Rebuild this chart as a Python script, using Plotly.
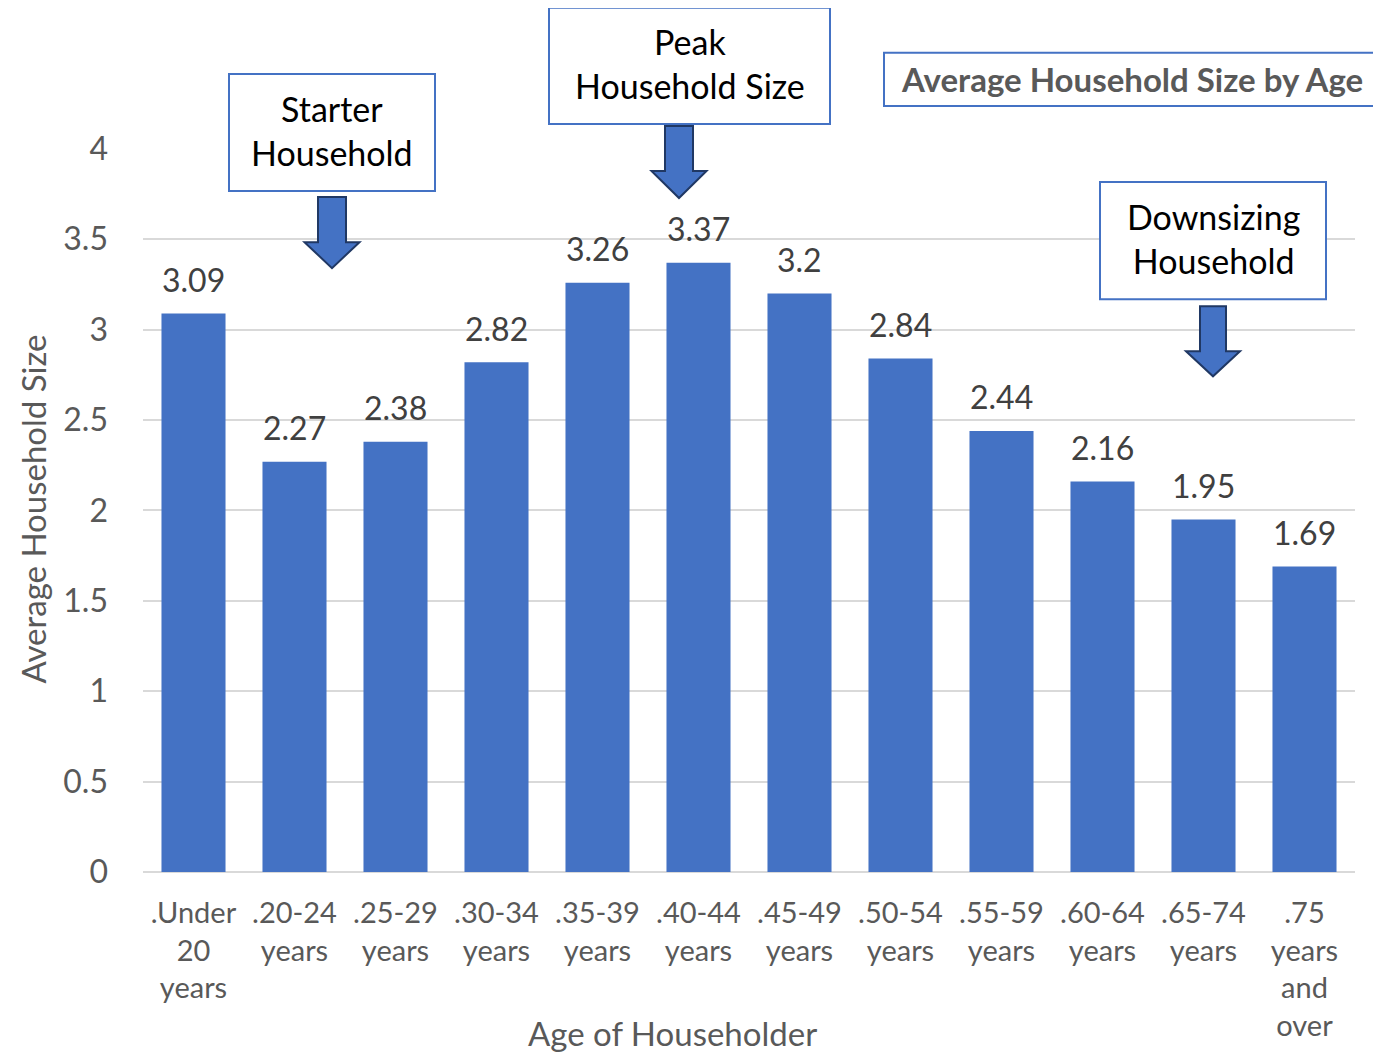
import plotly.graph_objects as go

categories = [".Under<br>20<br>years", ".20-24<br>years", ".25-29<br>years", ".30-34<br>years",
              ".35-39<br>years", ".40-44<br>years", ".45-49<br>years", ".50-54<br>years",
              ".55-59<br>years", ".60-64<br>years", ".65-74<br>years", ".75<br>years<br>and<br>over"]
values = [3.09, 2.27, 2.38, 2.82, 3.26, 3.37, 3.2, 2.84, 2.44, 2.16, 1.95, 1.69]
value_labels = ["3.09", "2.27", "2.38", "2.82", "3.26", "3.37", "3.2", "2.84", "2.44", "2.16", "1.95", "1.69"]

FONT = "Lato"
BLUE = "#4472C4"
GREY = "#595959"

W, H = 1381, 1059
OFF = 8  # default page body margin
L, R, T, B = 143, 1355, 149, 872  # target plot area in window pixels


def fx(x):
    return (x - L) / (R - L)


def fy(y):
    return (B - y) / (B - T)


fig = go.Figure()
fig.add_trace(go.Bar(x=categories, y=values, marker_color=BLUE, marker_line_width=0,
                     hoverinfo="skip"))

annotations = []
for c, v, t in zip(categories, values, value_labels):
    annotations.append(dict(x=c, y=v, xref="x", yref="y", text=t, showarrow=False,
                            xanchor="center", yanchor="middle", yshift=34,
                            font=dict(family=FONT, size=32, color="#404040")))

# Axis titles
annotations.append(dict(x=fx(672), y=fy(1033), xref="paper", yref="paper",
                        text="Age of Householder", showarrow=False,
                        xanchor="center", yanchor="middle",
                        font=dict(family=FONT, size=33, color=GREY)))
annotations.append(dict(x=fx(33), y=fy(510), xref="paper", yref="paper",
                        text="Average Household Size", showarrow=False, textangle=-90,
                        xanchor="center", yanchor="middle",
                        font=dict(family=FONT, size=33, color=GREY)))

shapes = []
# Callout boxes: (x0, y0, x1, y1, text, bold)
boxes = [
    (229, 75, 435, 192, "Starter<br>Household", False),
    (549, 9, 830, 125, "Peak<br>Household Size", False),
    (884, 54, 1380, 107, "Average Household Size by Age", True),
    (1100, 183, 1326, 300, "Downsizing<br>Household", False),
]
for x0, y0, x1, y1, txt, bold in boxes:
    shapes.append(dict(type="rect", xref="paper", yref="paper",
                       x0=fx(x0), x1=fx(x1), y0=fy(y1), y1=fy(y0),
                       line=dict(color=BLUE, width=2), fillcolor="white", layer="above"))
    if bold:
        annotations.append(dict(x=fx((x0 + x1) / 2), y=fy((y0 + y1) / 2), xref="paper", yref="paper",
                                text="<b>" + txt + "</b>", showarrow=False,
                                xanchor="center", yanchor="middle",
                                font=dict(family=FONT, size=33, color=GREY)))
    else:
        annotations.append(dict(x=fx((x0 + x1) / 2), y=fy((y0 + y1) / 2 - 2), xref="paper", yref="paper",
                                text=txt, showarrow=False,
                                xanchor="center", yanchor="middle",
                                font=dict(family=FONT, size=34, color="black")))

# Block arrows: (tip x, tip y, shaft half width, head half width, top y, neck y)
arrows = [
    (332, 269, 14, 27.5, 198, 243),
    (679, 199, 14, 27.5, 127, 172),
    (1213, 377, 13, 27, 307, 352),
]
for tx, ty, sw, hw, top, neck in arrows:
    pts = [(tx - sw, top), (tx + sw, top), (tx + sw, neck), (tx + hw, neck), (tx, ty),
           (tx - hw, neck), (tx - sw, neck)]
    path = "M " + " L ".join(f"{fx(px):.5f},{fy(py):.5f}" for px, py in pts) + " Z"
    shapes.append(dict(type="path", xref="paper", yref="paper", path=path,
                       fillcolor=BLUE, line=dict(color="#203864", width=2), layer="above"))

fig.update_layout(
    width=W, height=H,
    margin=dict(l=L - OFF, r=W - (R - OFF), t=T - OFF - 1, b=H - (B - OFF)),
    paper_bgcolor="white", plot_bgcolor="white",
    showlegend=False,
    bargap=0.366,
    font=dict(family=FONT, color=GREY),
    xaxis=dict(type="category", showgrid=False, showline=False, ticks="",
               tickfont=dict(family=FONT, size=29, color=GREY),
               ticklabelstandoff=21, tickangle=0),
    yaxis=dict(range=[0, 4.005], dtick=0.5, tick0=0, showgrid=True, gridcolor="#D9D9D9",
               gridwidth=1.5, zeroline=True, zerolinecolor="#D9D9D9", zerolinewidth=1.5,
               showline=False, ticks="", tickfont=dict(family=FONT, size=32, color=GREY),
               ticklabelstandoff=34),
    annotations=annotations,
    shapes=shapes,
)

fig.write_html("out.html")
